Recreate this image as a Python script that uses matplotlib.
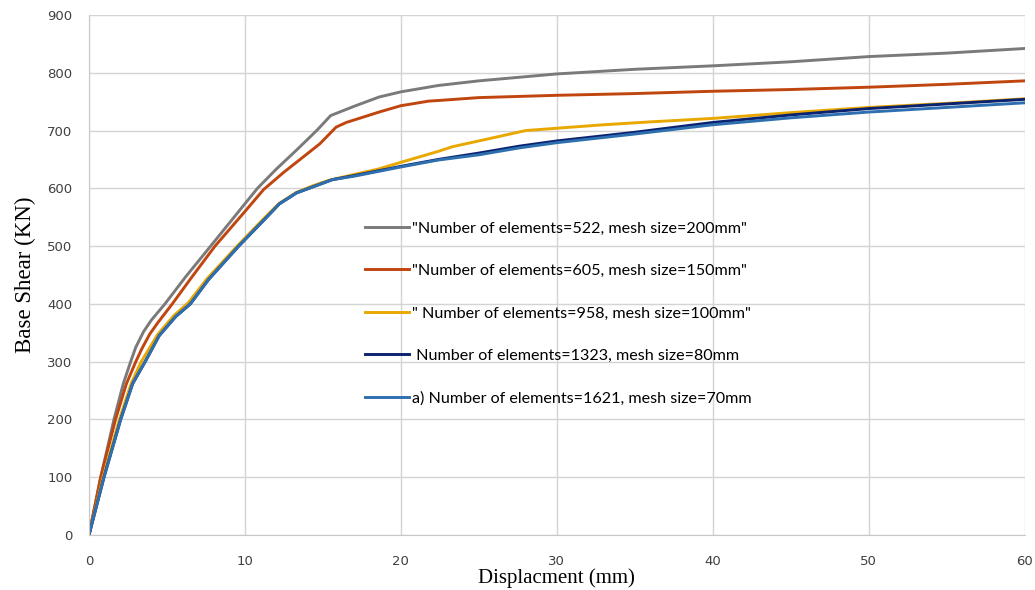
import matplotlib
matplotlib.use("Agg")
import matplotlib.pyplot as plt

# mesh 522 (200mm)
x522 = [0, 0.75, 1.6, 2.2, 2.67, 3.0, 3.5, 4.0, 4.87, 6.2, 7.8, 10.8, 12, 13.3, 14.6, 15.5, 17.1, 18.6, 20, 22.4, 25, 30, 35, 40, 45, 50, 55, 60]
y522 = [0, 100, 200, 262, 300, 325, 352, 372, 400, 447, 500, 600, 633, 666, 700, 726, 743, 758, 767, 778, 786, 798, 806, 812, 819, 828, 834, 842]

# mesh 605 (150mm)
x605 = [0, 0.75, 1.7, 2.4, 3.0, 3.4, 3.9, 4.4, 5.34, 6.5, 8.08, 10, 11.2, 12.5, 13.3, 14.8, 15.85, 16.5, 18.6, 20, 21.8, 22.4, 25, 30, 35, 40, 45, 50, 55, 60]
y605 = [0, 100, 200, 262, 300, 323, 348, 367, 400, 443, 500, 560, 598, 628, 645, 677, 706, 714, 732, 743, 751, 752, 757, 761, 764, 768, 771, 775, 780, 786]

# mesh 958 (100mm)
x958 = [0, 0.9, 1.95, 2.7, 3.35, 4.4, 5.45, 6.37, 7.55, 9.5, 11.4, 12.2, 13.3, 14.4, 15.4, 17, 18.5, 20, 22.4, 23.3, 25.5, 28, 30, 33, 36, 40, 45, 50, 55, 60]
y958 = [0, 100, 200, 262, 300, 347, 380, 402, 443, 500, 553, 574, 593, 605, 614, 624, 633, 645, 664, 672, 685, 700, 704, 710, 715, 721, 731, 740, 747, 755]

# mesh 1323 (80mm) and 1621 (70mm)
x_fine = [0, 0.96, 2.03, 2.8, 3.6, 4.5, 5.56, 6.5, 7.66, 9.6, 11.5, 12.2, 13.3, 14.4, 15.6, 17, 20, 22.4, 25, 27.6, 30, 35, 40, 45, 50, 55, 60]
y1323 = [0, 100, 200, 262, 300, 345, 378, 400, 442, 500, 553, 573, 592, 603, 615, 622, 638, 650, 661, 673, 682, 697, 714, 727, 738, 746, 754]
y1621 = [0, 100, 200, 262, 300, 345, 378, 400, 442, 500, 553, 573, 592, 603, 615, 621, 637, 649, 658, 670, 679, 694, 710, 722, 732, 740, 748]

labels = ['"Number of elements=522, mesh size=200mm"',
          '"Number of elements=605, mesh size=150mm"',
          '" Number of elements=958, mesh size=100mm"',
          ' Number of elements=1323, mesh size=80mm',
          'a) Number of elements=1621, mesh size=70mm']

fig = plt.figure(figsize=(10.35, 5.9), dpi=100)
ax = fig.add_axes([0.086, 0.0932, 0.904, 0.8814])

lw = 2.1
ax.plot(x522, y522, color="#7a7a7a", lw=lw, label=labels[0])
ax.plot(x605, y605, color="#c0450f", lw=lw, label=labels[1])
ax.plot(x958, y958, color="#e9a800", lw=lw, label=labels[2])
ax.plot(x_fine, y1323, color="#0b2270", lw=lw, label=labels[3])
ax.plot(x_fine, y1621, color="#2e6fb0", lw=lw, label=labels[4])

ax.set_xlim(0, 60)
ax.set_ylim(0, 900)
ax.set_xticks(range(0, 61, 10))
ax.set_yticks(range(0, 901, 100))
ax.grid(True, color="#d4d4d4", lw=1)
ax.set_axisbelow(True)
for s in ["top", "right"]:
    ax.spines[s].set_visible(False)
for s in ["left", "bottom"]:
    ax.spines[s].set_color("#c8c8c8")
ax.tick_params(length=0, labelsize=9.5, colors="#404040")
ax.tick_params(axis="x", pad=14.5)
ax.tick_params(axis="y", pad=12)

ax.set_ylabel("Base Shear (KN)", family="Liberation Serif", fontsize=16.5, labelpad=8)
ax.set_xlabel("Displacment (mm)", family="Liberation Serif", fontsize=15, labelpad=0)

leg = ax.legend(loc="upper left", bbox_to_anchor=(0.3527, 0.625), bbox_transform=fig.transFigure,
                frameon=False, prop={"family": "Lato", "size": 11.6},
                handlelength=2.75, handletextpad=0.15, labelspacing=1.75,
                borderpad=0, borderaxespad=0)

fig.savefig("out.png", dpi=100)
